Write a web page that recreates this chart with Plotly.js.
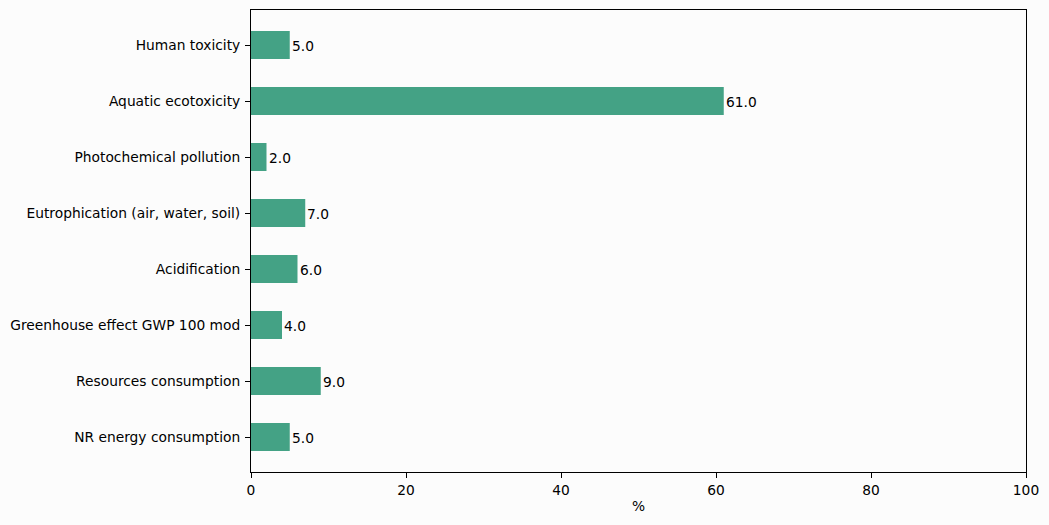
<!DOCTYPE html>
<html>
<head>
<meta charset="utf-8">
<script src="https://cdn.plot.ly/plotly-3.0.1.min.js"></script>
<style>html,body{margin:0;padding:0;background:#fcfcfc;}</style>
</head>
<body>
<div id="chart" style="width:1049px;height:525px;"></div>
<script>
const categories = ["Human toxicity", "Aquatic ecotoxicity", "Photochemical pollution", "Eutrophication (air, water, soil)", "Acidification", "Greenhouse effect GWP 100 mod", "Resources consumption", "NR energy consumption"];
const values = [5, 61, 2, 7, 6, 4, 9, 5];
const tickValues = [0, 20, 40, 60, 80, 100];

const font = {family: "DejaVu Sans, sans-serif", size: 13.8, color: "#000"};

const annotations = categories.map((c, i) => ({
  x: values[i], y: c, xref: "x", yref: "y",
  text: values[i].toFixed(1), showarrow: false,
  xanchor: "left", yanchor: "middle", xshift: 0, yshift: -1,
  font: font
}));

Plotly.newPlot("chart", [{
  type: "bar", orientation: "h",
  x: values, y: categories,
  width: 0.5,
  marker: {color: "#44a285"},
  hoverinfo: "none"
}], {
  width: 1049, height: 525,
  paper_bgcolor: "#fcfcfc", plot_bgcolor: "#fcfcfc",
  margin: {l: 251, r: 23, t: 10, b: 53, pad: 0},
  font: font,
  showlegend: false,
  xaxis: {
    range: [0, 100], tickvals: tickValues, ticktext: tickValues.map(String),
    ticks: "outside", ticklen: 5, tickwidth: 1, tickcolor: "#000",
    showline: true, linecolor: "#000", linewidth: 1, mirror: true,
    showgrid: false, zeroline: false,
    title: {text: "%", font: font, standoff: 4},
    tickfont: font, ticklabelstandoff: 0
  },
  yaxis: {
    type: "category",
    range: [7.625, -0.625],
    ticks: "outside", ticklen: 5, tickwidth: 1, tickcolor: "#000",
    showline: true, linecolor: "#000", linewidth: 1, mirror: true,
    showgrid: false, zeroline: false,
    tickfont: font, ticklabelstandoff: 2
  },
  annotations: annotations
}, {displayModeBar: false, staticPlot: true});
</script>
</body>
</html>
